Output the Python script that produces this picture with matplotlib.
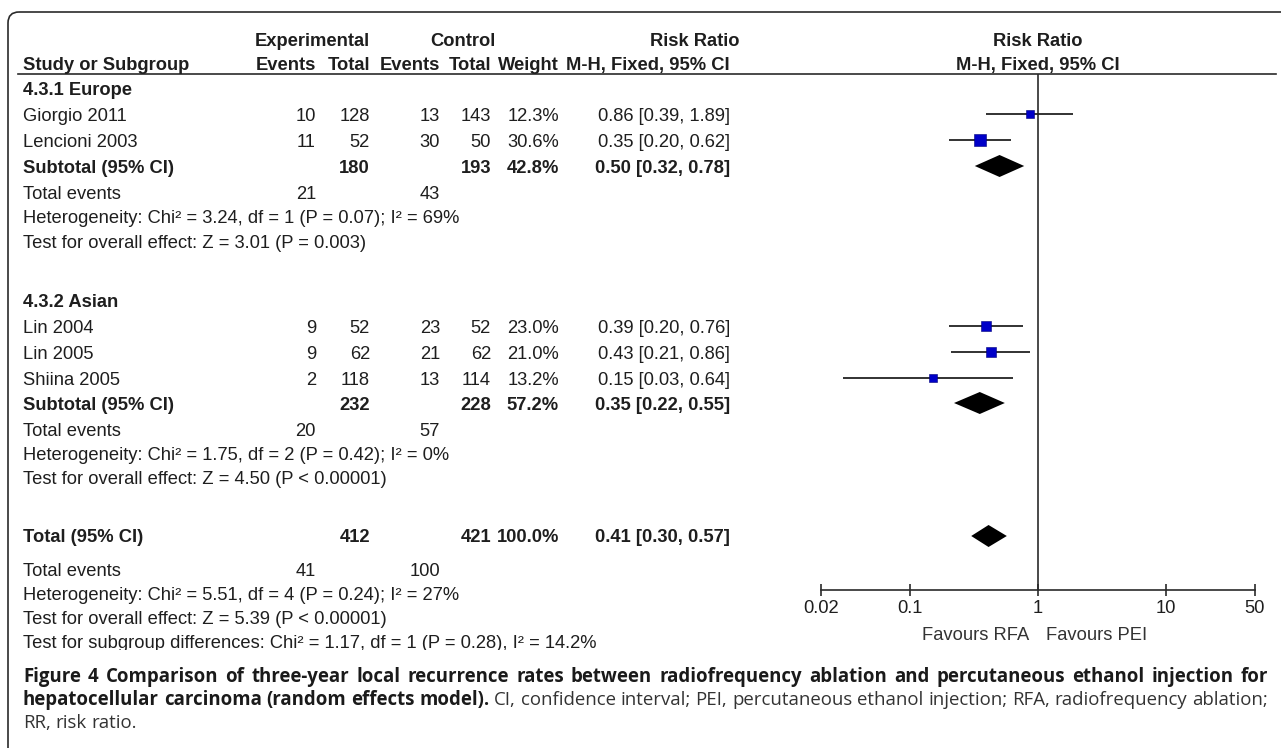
import matplotlib
matplotlib.use("Agg")
import matplotlib.pyplot as plt
from matplotlib.patches import FancyBboxPatch, Rectangle

W, H = 1281, 748

# ---- data ----
study_names = ["Giorgio 2011", "Lencioni 2003", "Lin 2004", "Lin 2005", "Shiina 2005"]
study_group = [0, 0, 1, 1, 1]
exp_events = [10, 11, 9, 9, 2]
exp_total = [128, 52, 52, 62, 118]
ctrl_events = [13, 30, 23, 21, 13]
ctrl_total = [143, 50, 52, 62, 114]
weights = [12.3, 30.6, 23.0, 21.0, 13.2]
rr = [0.86, 0.35, 0.39, 0.43, 0.15]
rr_lo = [0.39, 0.20, 0.20, 0.21, 0.03]
rr_hi = [1.89, 0.62, 0.76, 0.86, 0.64]

group_names = ["4.3.1 Europe", "4.3.2 Asian"]
group_exp_total = [180, 232]
group_ctrl_total = [193, 228]
group_weight = [42.8, 57.2]
group_rr = [0.50, 0.35]
group_lo = [0.32, 0.22]
group_hi = [0.78, 0.55]
group_exp_events = [21, 20]
group_ctrl_events = [43, 57]
group_het = ["Heterogeneity: Chi\u00b2 = 3.24, df = 1 (P = 0.07); I\u00b2 = 69%",
             "Heterogeneity: Chi\u00b2 = 1.75, df = 2 (P = 0.42); I\u00b2 = 0%"]
group_effect = ["Test for overall effect: Z = 3.01 (P = 0.003)",
                "Test for overall effect: Z = 4.50 (P < 0.00001)"]

total_exp_total, total_ctrl_total = 412, 421
total_weight = 100.0
total_rr, total_lo, total_hi = 0.41, 0.30, 0.57
total_exp_events, total_ctrl_events = 41, 100
total_lines = ["Heterogeneity: Chi\u00b2 = 5.51, df = 4 (P = 0.24); I\u00b2 = 27%",
               "Test for overall effect: Z = 5.39 (P < 0.00001)",
               "Test for subgroup differences: Chi\u00b2 = 1.17, df = 1 (P = 0.28), I\u00b2 = 14.2%"]

axis_ticks = [0.02, 0.1, 1, 10, 50]
axis_ticklabels = ["0.02", "0.1", "1", "10", "50"]
favours = ["Favours RFA", "Favours PEI"]

caption_l1 = [("Figure 4 Comparison of three-year local recurrence rates between radiofrequency "
               "ablation and percutaneous ethanol injection for", True)]
caption_l2 = [("hepatocellular carcinoma (random effects model).", True),
              ("CI, confidence interval; PEI, percutaneous ethanol injection; RFA, radiofrequency ablation;", False)]
caption_l3 = [("RR, risk ratio.", False)]

# ---- layout (pixels) ----
TXT = "#1e1e1e"
FONT, FS = "Liberation Sans", 13.2
x_name = 23
x_ee, x_et, x_ce, x_ct, x_w, x_ci = 316, 370, 440, 491, 559, 730
rows_grp = [dict(head=88, studies=[114, 140], sub=166, ev=192, het=216, eff=241),
            dict(head=300, studies=[326, 352, 378], sub=403, ev=429, het=453, eff=477)]
y_total, y_total_ev = 536, 569
y_total_lines = [593, 618, 642]
y_axis = 590
y_underline = 74

fig = plt.figure(figsize=(W / 100, H / 100), dpi=100)
tab = fig.add_axes([0, 0, 1, 1])
tab.set_xlim(0, W)
tab.set_ylim(H, 0)
tab.axis("off")

# rounded frame, open to the right and bottom
tab.add_patch(FancyBboxPatch((8, 12), 1400, 900, boxstyle="round,pad=0,rounding_size=11",
                             fill=False, ec="#2a2a2a", lw=1.2))


def put(x, y, s, ha="left", bold=False, **kw):
    return tab.text(x, y + 6.5, s, ha=ha, va="baseline", fontsize=FS, family=FONT,
                    fontweight="bold" if bold else "normal", color=TXT, **kw)


# headers
put(312, 39, "Experimental", ha="center", bold=True)
put(463, 39, "Control", ha="center", bold=True)
put(695, 39, "Risk Ratio", ha="center", bold=True)
put(1038, 39, "Risk Ratio", ha="center", bold=True)
put(x_name, 63, "Study or Subgroup", bold=True)
for x, s in [(x_ee, "Events"), (x_et, "Total"), (x_ce, "Events"), (x_ct, "Total"),
             (x_w, "Weight"), (x_ci, "M-H, Fixed, 95% CI")]:
    put(x, 63, s, ha="right", bold=True)
put(1038, 63, "M-H, Fixed, 95% CI", ha="center", bold=True)
tab.plot([18, 1276], [y_underline, y_underline], color="#2a2a2a", lw=1.2)

ci_fmt = "{:.2f} [{:.2f}, {:.2f}]"

# forest axes, log scale, y in pixel rows
x0, x1 = 821, 1255
fa = fig.add_axes([x0 / W, 0, (x1 - x0) / W, 1])
fa.set_xscale("log")
fa.set_xlim(axis_ticks[0], axis_ticks[-1])
fa.set_ylim(H, 0)
fa.patch.set_alpha(0)
for side in ["top", "left", "right"]:
    fa.spines[side].set_visible(False)
fa.spines["bottom"].set_position(("data", y_axis))
fa.spines["bottom"].set_color("#2a2a2a")
fa.spines["bottom"].set_linewidth(1.2)
fa.set_yticks([])
fa.set_xticks(axis_ticks)
fa.set_xticklabels(axis_ticklabels, family=FONT, fontsize=FS, color=TXT)
fa.minorticks_off()
fa.tick_params(axis="x", direction="inout", length=9, width=1.2, pad=3, color="#2a2a2a")
fa.vlines(1, y_underline, y_axis, color="#2a2a2a", lw=1.2)
fa.text(0.86, y_axis + 50, favours[0], ha="right", va="baseline", family=FONT, fontsize=FS, color="#333333")
fa.text(1.15, y_axis + 50, favours[1], ha="left", va="baseline", family=FONT, fontsize=FS, color="#333333")


def diamond(est, lo, hi, y, h=11):
    fa.fill([lo, est, hi, est], [y, y - h, y, y + h], color="black", lw=0)


for g, rows in enumerate(rows_grp):
    put(x_name, rows["head"], group_names[g], bold=True)
    idx = [i for i, sg in enumerate(study_group) if sg == g]
    for i, y in zip(idx, rows["studies"]):
        put(x_name, y, study_names[i])
        put(x_ee, y, str(exp_events[i]), ha="right")
        put(x_et, y, str(exp_total[i]), ha="right")
        put(x_ce, y, str(ctrl_events[i]), ha="right")
        put(x_ct, y, str(ctrl_total[i]), ha="right")
        put(x_w, y, f"{weights[i]:.1f}%", ha="right")
        put(x_ci, y, ci_fmt.format(rr[i], rr_lo[i], rr_hi[i]), ha="right")
        fa.hlines(y, rr_lo[i], rr_hi[i], color="#222222", lw=1.3)
        side = 2.1 * weights[i] ** 0.5 * 0.72
        fa.scatter([rr[i]], [y], marker="s", s=side ** 2, color="#0000c8",
                   edgecolors="#00007a", linewidths=0.4, zorder=3)
    y = rows["sub"]
    put(x_name, y, "Subtotal (95% CI)", bold=True)
    put(x_et, y, str(group_exp_total[g]), ha="right", bold=True)
    put(x_ct, y, str(group_ctrl_total[g]), ha="right", bold=True)
    put(x_w, y, f"{group_weight[g]:.1f}%", ha="right", bold=True)
    put(x_ci, y, ci_fmt.format(group_rr[g], group_lo[g], group_hi[g]), ha="right", bold=True)
    diamond(group_rr[g], group_lo[g], group_hi[g], y)
    put(x_name, rows["ev"], "Total events")
    put(x_ee, rows["ev"], str(group_exp_events[g]), ha="right")
    put(x_ce, rows["ev"], str(group_ctrl_events[g]), ha="right")
    put(x_name, rows["het"], group_het[g])
    put(x_name, rows["eff"], group_effect[g])

put(x_name, y_total, "Total (95% CI)", bold=True)
put(x_et, y_total, str(total_exp_total), ha="right", bold=True)
put(x_ct, y_total, str(total_ctrl_total), ha="right", bold=True)
put(x_w, y_total, f"{total_weight:.1f}%", ha="right", bold=True)
put(x_ci, y_total, ci_fmt.format(total_rr, total_lo, total_hi), ha="right", bold=True)
diamond(total_rr, total_lo, total_hi, y_total)
put(x_name, y_total_ev, "Total events")
put(x_ee, y_total_ev, str(total_exp_events), ha="right")
put(x_ce, y_total_ev, str(total_ctrl_events), ha="right")
for s, y in zip(total_lines, y_total_lines):
    t = put(x_name, y, s, clip_on=True)
    t.set_clip_path(Rectangle((0, 0), W, 650, transform=tab.transData))

# ---- caption, justified ----
CAP_FONT = "Open Sans"
CAP_FS = 13.4
cap_x0, cap_x1 = 23, 1268
renderer = fig.canvas.get_renderer()


def caption_line(y, pieces, justify=True):
    words = []
    for s, bold in pieces:
        for w in s.split(" "):
            words.append(tab.text(0, y, w, va="baseline", family=CAP_FONT, fontsize=CAP_FS,
                                  fontweight="bold" if bold else "normal",
                                  color="#1a1a1a" if bold else "#333333"))
    widths = [t.get_window_extent(renderer).width for t in words]
    space = CAP_FS * 0.26 * 100 / 72
    if justify and len(words) > 1:
        space = (cap_x1 - cap_x0 - sum(widths)) / (len(words) - 1)
    x = cap_x0
    for t, w in zip(words, widths):
        t.set_x(x)
        x += w + space


caption_line(682, caption_l1)
caption_line(705, caption_l2)
caption_line(728, caption_l3, justify=False)

fig.savefig("out.png", dpi=100)
